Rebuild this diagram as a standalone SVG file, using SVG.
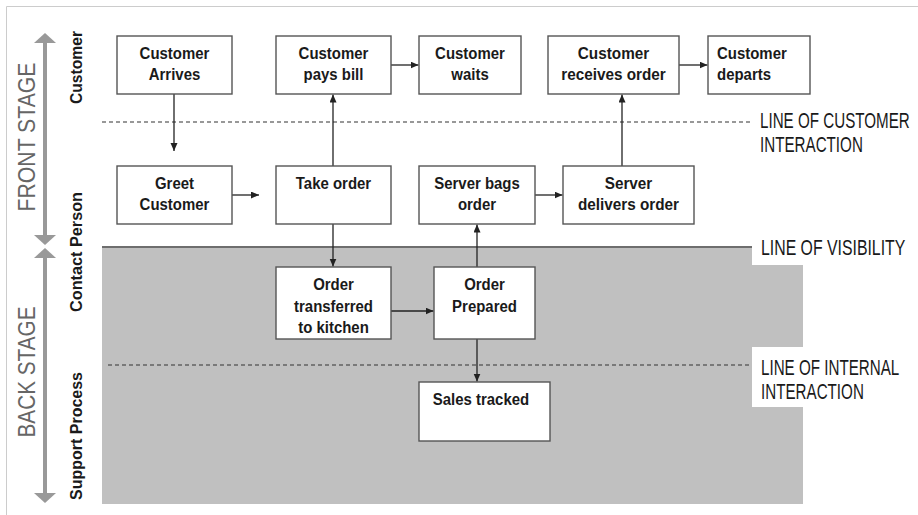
<svg xmlns="http://www.w3.org/2000/svg" width="918" height="515" viewBox="0 0 918 515">
  <style>
    .box { fill: #ffffff; stroke: #555555; stroke-width: 1.4; }
    .t { font-family: "Liberation Sans", Arial, sans-serif; font-weight: bold; font-size: 17px; fill: #1a1a1a; text-anchor: middle; }
    .tl { font-family: "Liberation Sans", Arial, sans-serif; font-weight: bold; font-size: 17px; fill: #1a1a1a; text-anchor: start; }
    .lane { font-family: "Liberation Sans", Arial, sans-serif; font-weight: bold; font-size: 17px; fill: #1a1a1a; text-anchor: middle; }
    .stage { font-family: "Liberation Sans", Arial, sans-serif; font-size: 23px; fill: #666666; text-anchor: middle; }
    .lbl { font-family: "Liberation Sans", Arial, sans-serif; font-size: 22px; fill: #1a1a1a; }
    .dash { stroke: #333333; stroke-width: 1.2; stroke-dasharray: 4 3; fill: none; }
    .conn { stroke: #222222; stroke-width: 1.3; fill: none; marker-end: url(#arrow); }
    .stagearrow { stroke: #999999; stroke-width: 4; }
  </style>
  <defs>
    <marker id="arrow" markerUnits="userSpaceOnUse" markerWidth="9" markerHeight="8" refX="8" refY="3.5" orient="auto">
      <path d="M0,0 L8,3.5 L0,7 z" fill="#222222"/>
    </marker>
  </defs>

  <rect width="918" height="515" fill="#ffffff"/>
  <!-- frame -->
  <path d="M6.5,515 V6.5 H918" fill="none" stroke="#cccccc" stroke-width="1"/>

  <!-- back stage shading -->
  <rect x="102" y="247" width="701" height="257" fill="#c0c0c0"/>
  <line x1="102" y1="247" x2="752" y2="247" stroke="#6e6e6e" stroke-width="2"/>

  <!-- lines of interaction -->
  <line class="dash" x1="102" y1="122" x2="753" y2="122"/>
  <line class="dash" x1="108" y1="365" x2="752" y2="365"/>

  <!-- right-hand labels -->
  <rect x="752" y="230" width="166" height="35" fill="#ffffff"/>
  <rect x="752" y="347" width="166" height="60" fill="#ffffff"/>
  <g id="label-customer-interaction">
    <text class="lbl" transform="translate(760,0) scale(0.69,1)" x="0" y="128">LINE OF CUSTOMER</text>
    <text class="lbl" transform="translate(760,0) scale(0.69,1)" x="0" y="152">INTERACTION</text>
  </g>
  <g id="label-visibility">
    <text class="lbl" transform="translate(761,0) scale(0.72,1)" x="0" y="255">LINE OF VISIBILITY</text>
  </g>
  <g id="label-internal-interaction">
    <text class="lbl" transform="translate(761,0) scale(0.69,1)" x="0" y="375">LINE OF INTERNAL</text>
    <text class="lbl" transform="translate(761,0) scale(0.69,1)" x="0" y="399">INTERACTION</text>
  </g>

  <!-- stage indicators -->
  <g id="front-stage">
    <line class="stagearrow" x1="45" y1="42" x2="45" y2="236"/>
    <polygon points="45,33 56,43 34,43" fill="#999999"/>
    <polygon points="45,245 56,235 34,235" fill="#999999"/>
    <text class="stage" transform="translate(35,137) rotate(-90)" textLength="149" lengthAdjust="spacingAndGlyphs">FRONT STAGE</text>
  </g>
  <g id="back-stage">
    <line class="stagearrow" x1="45" y1="257" x2="45" y2="495"/>
    <polygon points="45,248 56,258 34,258" fill="#999999"/>
    <polygon points="45,503 56,493 34,493" fill="#999999"/>
    <text class="stage" transform="translate(35,372) rotate(-90)" textLength="131" lengthAdjust="spacingAndGlyphs">BACK STAGE</text>
  </g>

  <!-- swimlane titles -->
  <g id="lane-customer">
    <text class="lane" transform="translate(82,67.5) rotate(-90)" textLength="73" lengthAdjust="spacingAndGlyphs">Customer</text>
  </g>
  <g id="lane-contact">
    <text class="lane" transform="translate(82,252) rotate(-90)" textLength="120" lengthAdjust="spacingAndGlyphs">Contact Person</text>
  </g>
  <g id="lane-support">
    <text class="lane" transform="translate(82,436) rotate(-90)" textLength="128" lengthAdjust="spacingAndGlyphs">Support Process</text>
  </g>

  <!-- connectors -->
  <g id="connectors">
    <line class="conn" x1="174" y1="94" x2="174" y2="151"/>
    <line class="conn" x1="232" y1="195" x2="259" y2="195"/>
    <line class="conn" x1="333" y1="166" x2="333" y2="94.5"/>
    <line class="conn" x1="391" y1="65" x2="418.5" y2="65"/>
    <line class="conn" x1="333" y1="224" x2="333" y2="266.5"/>
    <line class="conn" x1="391" y1="311" x2="433.5" y2="311"/>
    <line class="conn" x1="477" y1="267" x2="477" y2="224.5"/>
    <line class="conn" x1="535" y1="195" x2="562.5" y2="195"/>
    <line class="conn" x1="622" y1="166" x2="622" y2="94.5"/>
    <line class="conn" x1="679" y1="65" x2="707.5" y2="65"/>
    <line class="conn" x1="477" y1="339" x2="477" y2="381.5"/>
  </g>

  <!-- customer lane -->
  <g id="customer-arrives">
    <rect class="box" x="117" y="36" width="115" height="58"/>
    <text class="t" transform="translate(174.5,0) scale(0.88,1)"><tspan x="0" y="59">Customer</tspan><tspan x="0" y="80">Arrives</tspan></text>
  </g>
  <g id="customer-pays-bill">
    <rect class="box" x="276" y="36" width="115" height="58"/>
    <text class="t" transform="translate(333.5,0) scale(0.88,1)"><tspan x="0" y="59">Customer</tspan><tspan x="0" y="80">pays bill</tspan></text>
  </g>
  <g id="customer-waits">
    <rect class="box" x="419" y="36" width="102" height="58"/>
    <text class="t" transform="translate(470,0) scale(0.88,1)"><tspan x="0" y="59">Customer</tspan><tspan x="0" y="80">waits</tspan></text>
  </g>
  <g id="customer-receives-order">
    <rect class="box" x="548" y="36" width="131" height="58"/>
    <text class="t" transform="translate(613.5,0) scale(0.9,1)"><tspan x="0" y="59">Customer</tspan><tspan x="0" y="80">receives order</tspan></text>
  </g>
  <g id="customer-departs">
    <rect class="box" x="708" y="36" width="102" height="58"/>
    <text class="tl" transform="translate(717,0) scale(0.88,1)"><tspan x="0" y="59">Customer</tspan><tspan x="0" y="80">departs</tspan></text>
  </g>

  <!-- contact person lane -->
  <g id="greet-customer">
    <rect class="box" x="117" y="166" width="115" height="58"/>
    <text class="t" transform="translate(174.5,0) scale(0.88,1)"><tspan x="0" y="189">Greet</tspan><tspan x="0" y="210">Customer</tspan></text>
  </g>
  <g id="take-order">
    <rect class="box" x="276" y="166" width="115" height="58"/>
    <text class="t" transform="translate(333.5,0) scale(0.88,1)"><tspan x="0" y="189">Take order</tspan></text>
  </g>
  <g id="server-bags-order">
    <rect class="box" x="419" y="166" width="116" height="58"/>
    <text class="t" transform="translate(477,0) scale(0.88,1)"><tspan x="0" y="189">Server bags</tspan><tspan x="0" y="210">order</tspan></text>
  </g>
  <g id="server-delivers-order">
    <rect class="box" x="563" y="166" width="131" height="58"/>
    <text class="t" transform="translate(628.5,0) scale(0.9,1)"><tspan x="0" y="189">Server</tspan><tspan x="0" y="210">delivers order</tspan></text>
  </g>

  <!-- back stage -->
  <g id="order-transferred">
    <rect class="box" x="276" y="267" width="115" height="72"/>
    <text class="t" transform="translate(333.5,0) scale(0.88,1)"><tspan x="0" y="290">Order</tspan><tspan x="0" y="312">transferred</tspan><tspan x="0" y="333">to kitchen</tspan></text>
  </g>
  <g id="order-prepared">
    <rect class="box" x="434" y="267" width="101" height="72"/>
    <text class="t" transform="translate(484.5,0) scale(0.88,1)"><tspan x="0" y="290">Order</tspan><tspan x="0" y="312">Prepared</tspan></text>
  </g>

  <!-- support process -->
  <g id="sales-tracked">
    <rect class="box" x="419" y="382" width="131" height="59"/>
    <text class="t" transform="translate(481,0) scale(0.88,1)"><tspan x="0" y="405">Sales tracked</tspan></text>
  </g>
</svg>
